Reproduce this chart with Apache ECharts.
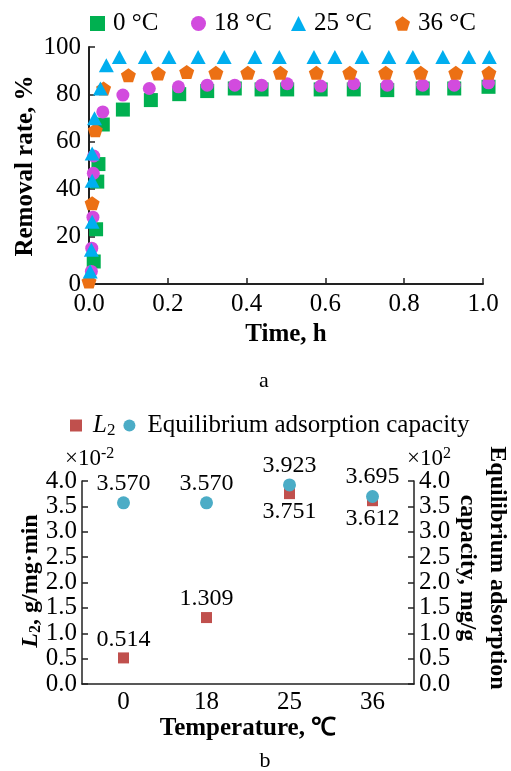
<!DOCTYPE html>
<html>
<head>
<meta charset="utf-8">
<script src="https://cdn.jsdelivr.net/npm/echarts@6/dist/echarts.min.js"></script>
<style>
html,body{margin:0;padding:0;background:#fff;}
#c{width:511px;height:771px;}
</style>
</head>
<body>
<div id="c"></div>
<script>
// ---------- Panel a: removal rate vs time ----------
const time0 = [0.012, 0.018, 0.021, 0.024, 0.035, 0.086, 0.157, 0.229, 0.300, 0.370, 0.438, 0.503, 0.588, 0.672, 0.757, 0.847, 0.927, 1.014];
const rate0 = [9.5, 23.1, 43.2, 50.6, 67.3, 73.6, 77.6, 80.1, 81.4, 82.5, 82.1, 82.1, 82.1, 82.1, 81.8, 82.5, 82.5, 83.2];

const time18 = [0.006, 0.007, 0.010, 0.011, 0.012, 0.035, 0.086, 0.153, 0.227, 0.300, 0.370, 0.438, 0.503, 0.588, 0.672, 0.757, 0.847, 0.927, 1.014];
const rate18 = [5.3, 15.1, 28.2, 46.7, 54.0, 72.6, 79.7, 82.5, 83.2, 83.9, 83.9, 83.9, 84.5, 83.5, 84.5, 83.9, 83.9, 83.9, 84.9];

const time25 = [0.003, 0.006, 0.008, 0.008, 0.008, 0.014, 0.029, 0.044, 0.077, 0.143, 0.203, 0.277, 0.343, 0.421, 0.483, 0.571, 0.624, 0.693, 0.761, 0.822, 0.898, 0.964, 1.016];
const rate25 = [5.3, 14.4, 26.3, 43.6, 55.1, 69.9, 82.5, 92.3, 95.8, 95.8, 95.8, 95.8, 95.8, 95.8, 95.8, 95.8, 95.8, 95.8, 95.8, 95.8, 95.8, 95.8, 95.8];

const time36 = [0.000, 0.008, 0.016, 0.037, 0.100, 0.176, 0.248, 0.322, 0.403, 0.486, 0.577, 0.662, 0.753, 0.842, 0.931, 1.015];
const rate36 = [1.1, 34.1, 64.9, 82.5, 88.1, 88.8, 89.5, 89.1, 89.1, 89.1, 89.1, 89.1, 89.1, 89.1, 89.1, 89.1];

const seriesNamesA = ['0 °C', '18 °C', '25 °C', '36 °C'];

// ---------- Panel b: L2 and equilibrium capacity vs temperature ----------
const tempCats = ['0', '18', '25', '36'];
const L2vals = [0.514, 1.309, 3.751, 3.612];
const eqCap = [3.570, 3.570, 3.923, 3.695];
const L2LabelPos = ['top', 'top', 'bottom', 'bottom'];

const FONT = 'Liberation Serif';
const zip = (xs, ys) => xs.map((x, i) => [x, ys[i]]);
const PENTAGON = 'path://M0,-1 L0.951,-0.309 L0.588,0.809 L-0.588,0.809 L-0.951,-0.309 Z';
const AX = '#222';

const chart = echarts.init(document.getElementById('c'), null, {renderer: 'canvas'});

const tickFmt1 = v => v.toFixed(1);
const legendLefts = [90, 191, 291, 395];

const option = {
  backgroundColor: '#fff',
  textStyle: {fontFamily: FONT, color: '#000'},
  animation: false,
  legend: seriesNamesA.map((n, i) => ({
      data: [n],
      left: legendLefts[i], top: 11, padding: 0,
      itemWidth: 15, itemHeight: 15,
      textStyle: {fontFamily: FONT, fontSize: 25, color: '#000', padding: [0, 0, 0, 3]}
    })).concat([
    {
      data: ['L2', 'Equilibrium adsorption capacity'],
      left: 70, top: 413, padding: 0,
      itemWidth: 12, itemHeight: 12, itemGap: 8,
      formatter: n => n === 'L2' ? '{i|L}{s|2}' : '{t|' + n + '}',
      textStyle: {
        fontFamily: FONT, fontSize: 25, color: '#000',
        rich: {
          i: {fontFamily: FONT, fontSize: 25, fontStyle: 'italic', color: '#000', padding: [0, 0, 0, 6]},
          s: {fontFamily: FONT, fontSize: 17, color: '#000', padding: [10, 0, 0, 0]},
          t: {fontFamily: FONT, fontSize: 25, color: '#000', padding: [0, 0, 0, 7]}
        }
      }
    }
  ]),
  grid: [
    {left: 89, top: 47, width: 394, height: 237},
    {left: 82, top: 481, width: 332, height: 203}
  ],
  xAxis: [
    {
      gridIndex: 0, type: 'value', min: 0, max: 1, interval: 0.2,
      name: 'Time, h', nameLocation: 'middle', nameGap: 38,
      nameTextStyle: {fontFamily: FONT, fontSize: 25, fontWeight: 'bold', color: '#000'},
      axisLine: {lineStyle: {color: AX, width: 2}},
      axisTick: {inside: true, length: 6, lineStyle: {color: AX, width: 1.5}},
      axisLabel: {fontFamily: FONT, fontSize: 25, color: '#000', margin: 8, formatter: tickFmt1},
      splitLine: {show: false}
    },
    {
      gridIndex: 1, type: 'category', data: tempCats, boundaryGap: true,
      name: 'Temperature, ℃', nameLocation: 'middle', nameGap: 28,
      nameTextStyle: {fontFamily: FONT, fontSize: 25, fontWeight: 'bold', color: '#000'},
      axisLine: {lineStyle: {color: AX, width: 1.5}},
      axisTick: {inside: true, length: 6, lineStyle: {color: AX, width: 1.5}},
      axisLabel: {fontFamily: FONT, fontSize: 25, color: '#000', margin: 6},
      splitLine: {show: false}
    }
  ],
  yAxis: [
    {
      gridIndex: 0, type: 'value', min: 0, max: 100, interval: 20,
      axisLine: {show: true, lineStyle: {color: AX, width: 2}},
      axisTick: {show: true, inside: true, length: 6, lineStyle: {color: AX, width: 1.5}},
      axisLabel: {fontFamily: FONT, fontSize: 25, color: '#000', margin: 8},
      splitLine: {show: false}
    },
    {
      gridIndex: 1, type: 'value', min: 0, max: 4, interval: 0.5, position: 'left',
      axisLine: {show: true, lineStyle: {color: AX, width: 1.5}},
      axisTick: {show: true, inside: true, length: 6, lineStyle: {color: AX, width: 1.5}},
      axisLabel: {fontFamily: FONT, fontSize: 25, color: '#000', margin: 5, formatter: tickFmt1},
      splitLine: {show: false}
    },
    {
      gridIndex: 1, type: 'value', min: 0, max: 4, interval: 0.5, position: 'right',
      axisLine: {show: true, lineStyle: {color: AX, width: 1.5}},
      axisTick: {show: true, inside: true, length: 6, lineStyle: {color: AX, width: 1.5}},
      axisLabel: {fontFamily: FONT, fontSize: 25, color: '#000', margin: 5, formatter: tickFmt1},
      splitLine: {show: false}
    }
  ],
  graphic: [
    {type: 'text', x: 26, y: 166, rotation: Math.PI / 2, style: {
      text: 'Removal rate, %', font: 'bold 25px "Liberation Serif"', fill: '#000', align: 'center', verticalAlign: 'middle'
    }},
    {type: 'text', x: 31, y: 581, rotation: Math.PI / 2, style: {
      text: '{i|L}{s|2}{b|, g/mg·min}', fill: '#000', align: 'center', verticalAlign: 'middle',
      rich: {
        i: {fontFamily: FONT, fontSize: 24, fontWeight: 'bold', fontStyle: 'italic', fill: '#000'},
        s: {fontFamily: FONT, fontSize: 16, fontWeight: 'bold', fill: '#000', padding: [10, 0, 0, 0]},
        b: {fontFamily: FONT, fontSize: 24, fontWeight: 'bold', fill: '#000'}
      }
    }},
    {type: 'text', x: 482, y: 568, rotation: -Math.PI / 2, style: {
      text: 'Equilibrium adsorption\ncapacity, mg/g', font: 'bold 24px "Liberation Serif"', fill: '#000',
      align: 'center', verticalAlign: 'middle', lineHeight: 30
    }},
    {type: 'text', left: 65, top: 446, style: {
      text: '{a|×10}{b|-2}', fill: '#000',
      rich: {a: {fontFamily: FONT, fontSize: 23, fill: '#000'}, b: {fontFamily: FONT, fontSize: 16, fill: '#000', padding: [0, 0, 10, 0]}}
    }},
    {type: 'text', left: 407, top: 446, style: {
      text: '{a|×10}{b|2}', fill: '#000',
      rich: {a: {fontFamily: FONT, fontSize: 23, fill: '#000'}, b: {fontFamily: FONT, fontSize: 16, fill: '#000', padding: [0, 0, 10, 0]}}
    }},
    {type: 'text', x: 264, y: 381, style: {text: 'a', font: '22px "Liberation Serif"', fill: '#000', align: 'center', verticalAlign: 'middle'}},
    {type: 'text', x: 265, y: 761, style: {text: 'b', font: '22px "Liberation Serif"', fill: '#000', align: 'center', verticalAlign: 'middle'}}
  ],
  series: [
    {name: seriesNamesA[0], type: 'scatter', xAxisIndex: 0, yAxisIndex: 0, clip: false,
     symbol: 'rect', symbolSize: 14, itemStyle: {color: '#00B050', opacity: 1}, data: zip(time0, rate0), z: 2},
    {name: seriesNamesA[1], type: 'scatter', xAxisIndex: 0, yAxisIndex: 0, clip: false,
     symbol: 'circle', symbolSize: 13, itemStyle: {color: '#D24BDE', opacity: 1}, data: zip(time18, rate18), z: 3},
    {name: seriesNamesA[3], type: 'scatter', xAxisIndex: 0, yAxisIndex: 0, clip: false,
     symbol: PENTAGON, symbolSize: [15, 14], itemStyle: {color: '#EC7014', opacity: 1}, data: zip(time36, rate36), z: 4},
    {name: seriesNamesA[2], type: 'scatter', xAxisIndex: 0, yAxisIndex: 0, clip: false,
     symbol: 'triangle', symbolSize: [15, 14], itemStyle: {color: '#00AEEF', opacity: 1}, data: zip(time25, rate25), z: 5},
    {name: 'L2', type: 'scatter', xAxisIndex: 1, yAxisIndex: 1, clip: false,
     symbol: 'rect', symbolSize: 11, itemStyle: {color: '#C0504D', opacity: 1},
     data: L2vals.map((v, i) => ({value: v, label: {position: L2LabelPos[i]}})),
     label: {show: true, fontFamily: FONT, fontSize: 24, color: '#000', distance: 1, formatter: p => p.value.toFixed(3)}},
    {name: 'Equilibrium adsorption capacity', type: 'scatter', xAxisIndex: 1, yAxisIndex: 2, clip: false,
     symbol: 'circle', symbolSize: 13, itemStyle: {color: '#4BACC6', opacity: 1},
     data: eqCap,
     label: {show: true, position: 'top', fontFamily: FONT, fontSize: 24, color: '#000', distance: 1, formatter: p => p.value.toFixed(3)}}
  ]
};
chart.setOption(option);
</script>
</body>
</html>
